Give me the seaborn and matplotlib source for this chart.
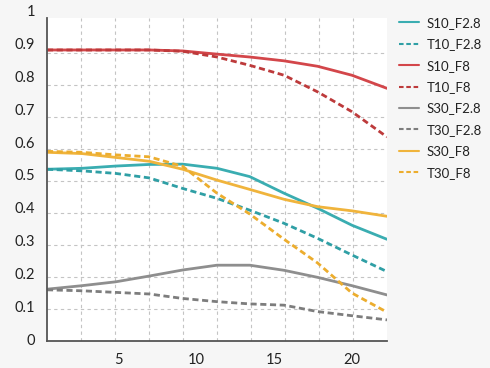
import numpy as np
import matplotlib
matplotlib.use("Agg")
import matplotlib.pyplot as plt
import seaborn as sns

# field position (image height), read at the grid columns of the reference
x_pos = [0.45, 2.7, 4.85, 7.0, 9.15, 11.35, 13.45, 15.65, 17.8, 20.0, 22.25]

s10_f28 = [0.537, 0.540, 0.547, 0.552, 0.553, 0.540, 0.514, 0.462, 0.415, 0.362, 0.318]
t10_f28 = [0.537, 0.532, 0.524, 0.510, 0.477, 0.446, 0.409, 0.368, 0.321, 0.269, 0.217]
s10_f8 = [0.910, 0.910, 0.910, 0.910, 0.907, 0.897, 0.888, 0.876, 0.859, 0.831, 0.790]
t10_f8 = [0.910, 0.910, 0.910, 0.910, 0.906, 0.888, 0.862, 0.831, 0.779, 0.717, 0.638]
s30_f28 = [0.162, 0.173, 0.185, 0.203, 0.222, 0.237, 0.237, 0.221, 0.199, 0.173, 0.144]
t30_f28 = [0.160, 0.157, 0.152, 0.147, 0.133, 0.123, 0.116, 0.112, 0.092, 0.079, 0.066]
s30_f8 = [0.590, 0.586, 0.574, 0.562, 0.537, 0.503, 0.474, 0.443, 0.420, 0.407, 0.390]
t30_f8 = [0.593, 0.590, 0.582, 0.576, 0.546, 0.462, 0.397, 0.318, 0.244, 0.150, 0.090]

series = [
    ("S10_F2.8", s10_f28, "#3aadb1", "-"),
    ("T10_F2.8", t10_f28, "#2f9fa5", "--"),
    ("S10_F8", s10_f8, "#d3464a", "-"),
    ("T10_F8", t10_f8, "#bd3a3b", "--"),
    ("S30_F2.8", s30_f28, "#8e8e8e", "-"),
    ("T30_F2.8", t30_f28, "#7d7d7d", "--"),
    ("S30_F8", s30_f8, "#f0b43c", "-"),
    ("T30_F8", t30_f8, "#ecad2e", "--"),
]

y_labels = ["0", "0.1", "0.2", "0.3", "0.4", "0.5", "0.6", "0.7", "0.8", "0.9", "1"]
x_ticks = [5, 10, 15, 20]

sns.set_theme(style="white")
plt.rcParams["font.family"] = ["Lato", "DejaVu Sans"]

fig = plt.figure(figsize=(4.9, 3.68), dpi=100, facecolor="#f6f6f6")
ax = fig.add_axes([0.0959, 0.0734, 0.6939, 0.8777])
ax.set_facecolor("white")

for name, vals, color, ls in series:
    dash = (0, (2.2, 1.3)) if ls == "--" else "-"
    sns.lineplot(x=x_pos, y=vals, ax=ax, color=color, linestyle=dash,
                 linewidth=2.0, label=name)

ax.set_xlim(0.45, 22.25)
ax.set_ylim(0, 1.01)

# grid: vertical lines split the width in ten, horizontal every 0.1
ax.set_xticks(x_ticks)
ax.set_xticks(np.linspace(0.45, 22.25, 11)[1:-1], minor=True)
ax.set_yticks(np.arange(1, 10) / 10)
ax.set_yticklabels([])
ax.grid(False)
ax.grid(which="minor", axis="x", color="#c4c4c4", linestyle=(0, (3, 3)), linewidth=0.8)
ax.grid(which="major", axis="y", color="#c4c4c4", linestyle=(0, (3, 3)), linewidth=0.8)
ax.set_axisbelow(True)

ax.tick_params(axis="both", which="both", length=0)
ax.tick_params(axis="x", pad=9, labelsize=10.5, labelcolor="#222222")

for i, lab in enumerate(y_labels):
    ax.text(-0.035, i / 10 * 1.0186, lab, transform=ax.transAxes,
            ha="right", va="center", fontsize=10.5, color="#222222")

for side in ["top", "right"]:
    ax.spines[side].set_visible(False)
for side in ["left", "bottom"]:
    ax.spines[side].set_color("#555555")
    ax.spines[side].set_linewidth(1.3)

leg = ax.legend(loc="upper left", bbox_to_anchor=(0.804, 0.968),
                bbox_transform=fig.transFigure, frameon=False, fontsize=9.5,
                handlelength=1.5, handletextpad=0.6, labelspacing=0.71,
                borderaxespad=0)
for line in leg.get_lines():
    line.set_linewidth(1.5)
for t in leg.get_texts():
    t.set_color("#222222")

fig.savefig("out.png", dpi=100, facecolor=fig.get_facecolor())
